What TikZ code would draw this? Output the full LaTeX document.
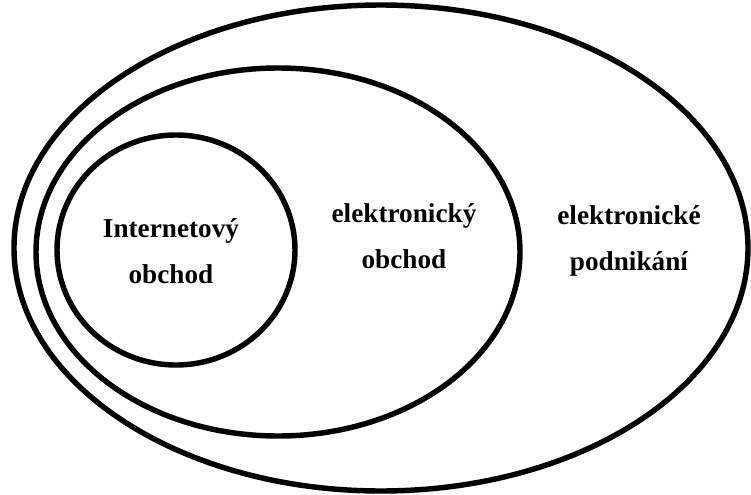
\documentclass[tikz,border=0pt]{standalone}
\usepackage{fontspec}
\setmainfont{Liberation Serif}
\begin{document}
\begin{tikzpicture}[x=0.02cm,y=0.02cm]
            \tikzset{ring/.style={draw=black,line width=3.1pt},
                     label/.style={font=\bfseries\fontsize{15.5}{26}\selectfont,align=center}}
            \useasboundingbox (0,0) rectangle (751,-494);
            % three nested ovals
            \draw[ring] (381,-248) ellipse [x radius=367, y radius=243];
            \draw[ring] (278,-252) ellipse [x radius=242, y radius=184];
            \draw[ring] (176,-250) ellipse [x radius=119, y radius=115];
            % texts
            \node[label] (inet) at (171,-251) {Internetový\\obchod};
            \node[label] (eobchod) at (404,-236) {elektronický\\obchod};
            \node[label] (epodnik) at (629,-241) {elektronické\\podnikání};
        \end{tikzpicture}
\end{document}
